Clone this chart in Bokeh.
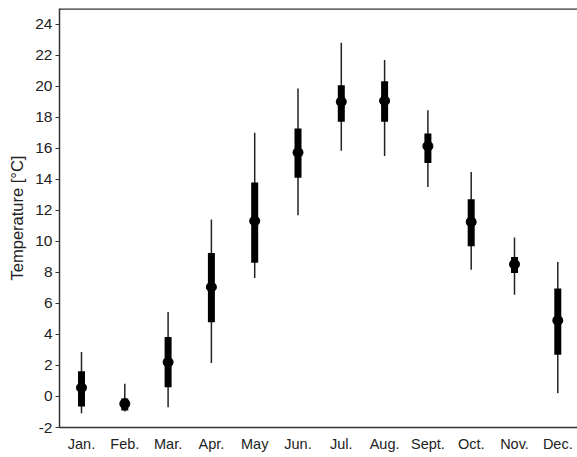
from bokeh.plotting import figure
from bokeh.models import FixedTicker, Span, ColumnDataSource, Range1d
from bokeh.embed import file_html
from bokeh.resources import INLINE

months = ["Jan.", "Feb.", "Mar.", "Apr.", "May", "Jun.", "Jul.", "Aug.", "Sept.", "Oct.", "Nov.", "Dec."]
month_pos = [1, 2, 3, 4, 5, 6, 7, 8, 9, 10, 11, 12]
mean_t = [0.56, -0.47, 2.21, 7.05, 11.31, 15.72, 18.99, 19.05, 16.13, 11.25, 8.52, 4.9]
q_high = [1.63, -0.13, 3.83, 9.25, 13.78, 17.27, 20.06, 20.32, 16.95, 12.71, 8.99, 6.95]
q_low = [-0.65, -0.9, 0.6, 4.79, 8.62, 14.09, 17.7, 17.7, 15.05, 9.68, 7.96, 2.69]
t_max = [2.86, 0.82, 5.44, 11.4, 16.99, 19.85, 22.8, 21.68, 18.45, 14.47, 10.24, 8.67]
t_min = [-1.08, -0.97, -0.69, 2.15, 7.63, 11.68, 15.83, 15.5, 13.5, 8.17, 6.56, 0.21]
y_ticks = [-2, 0, 2, 4, 6, 8, 10, 12, 14, 16, 18, 20, 22, 24]

src = ColumnDataSource(dict(x=month_pos, mean=mean_t, qh=q_high, ql=q_low, hi=t_max, lo=t_min))

p = figure(width=577, height=457, output_backend="svg", toolbar_location=None,
           x_range=Range1d(0.492, 12.455), y_range=Range1d(-2, 25),
           min_border_left=59, min_border_top=8, min_border_right=0, min_border_bottom=30)
p.background_fill_color = "white"
p.border_fill_color = "white"
p.outline_line_color = None
p.grid.visible = False

p.segment(x0="x", y0="lo", x1="x", y1="hi", source=src, line_color="#222222", line_width=1.5)
p.segment(x0="x", y0="ql", x1="x", y1="qh", source=src, line_color="black", line_width=7)
p.scatter(x="x", y="mean", source=src, marker="circle", size=10, fill_color="black", line_color="black")

top = Span(location=25, dimension="width", line_color="#333333", line_width=2.5)
p.add_layout(top)

font = "Liberation Sans"
p.yaxis.ticker = FixedTicker(ticks=y_ticks)
p.yaxis.major_label_overrides = {t: str(t) for t in y_ticks}
p.yaxis.axis_label = "Temperature [°C]"
p.yaxis.axis_label_text_font = font
p.yaxis.axis_label_text_font_size = "16.5px"
p.yaxis.axis_label_text_font_style = "normal"
p.yaxis.axis_label_text_color = "#222222"
p.yaxis.axis_label_standoff = 6
p.yaxis.major_label_text_font = font
p.yaxis.major_label_text_font_size = "15.5px"
p.yaxis.major_label_text_color = "#222222"
p.yaxis.major_tick_out = 4
p.yaxis.major_tick_in = 0
p.yaxis.minor_tick_line_color = None
p.yaxis.major_label_standoff = 3

p.xaxis.ticker = FixedTicker(ticks=month_pos)
p.xaxis.major_label_overrides = {m: lbl for m, lbl in zip(month_pos, months)}
p.xaxis.major_label_text_font = font
p.xaxis.major_label_text_font_size = "14.5px"
p.xaxis.major_label_text_color = "#222222"
p.xaxis.major_tick_out = 0
p.xaxis.major_tick_in = 0
p.xaxis.minor_tick_line_color = None
p.xaxis.major_label_standoff = 8

for ax in (p.xaxis, p.yaxis):
    ax.axis_line_color = "#333333"
    ax.axis_line_width = 1.5
p.yaxis.major_tick_line_color = "#333333"
p.xaxis.major_tick_line_color = None

open("out.html", "w").write(file_html(p, INLINE))
